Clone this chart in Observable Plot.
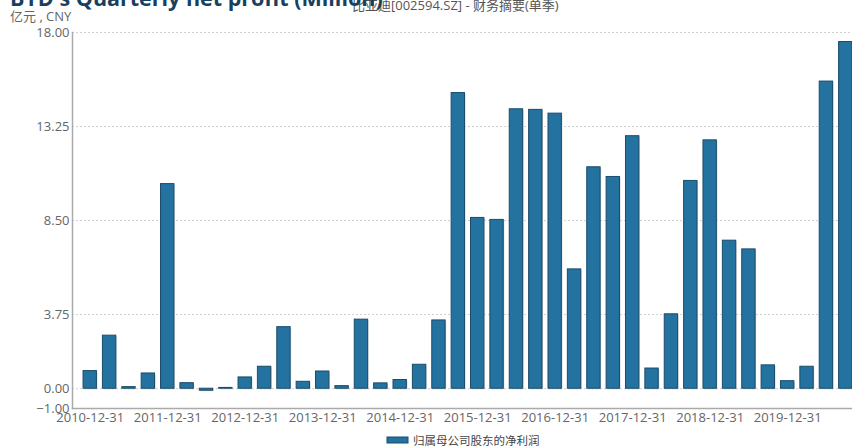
<!DOCTYPE html>
<html>
<head>
<meta charset="utf-8">
<script src="https://cdn.jsdelivr.net/npm/d3@7"></script>
<script src="https://cdn.jsdelivr.net/npm/@observablehq/plot@0.6"></script>
<style>
  html, body { margin: 0; padding: 0; background: #fff; }
  #chart { width: 852px; height: 446px; overflow: hidden; }
</style>
</head>
<body>
<div id="chart"></div>
<script>
// Quarter-end report dates
const quarters = [
  "2010-12-31",
  "2011-03-31", "2011-06-30", "2011-09-30", "2011-12-31",
  "2012-03-31", "2012-06-30", "2012-09-30", "2012-12-31",
  "2013-03-31", "2013-06-30", "2013-09-30", "2013-12-31",
  "2014-03-31", "2014-06-30", "2014-09-30", "2014-12-31",
  "2015-03-31", "2015-06-30", "2015-09-30", "2015-12-31",
  "2016-03-31", "2016-06-30", "2016-09-30", "2016-12-31",
  "2017-03-31", "2017-06-30", "2017-09-30", "2017-12-31",
  "2018-03-31", "2018-06-30", "2018-09-30", "2018-12-31",
  "2019-03-31", "2019-06-30", "2019-09-30", "2019-12-31",
  "2020-03-31", "2020-06-30", "2020-09-30"
];

// Net profit attributable to shareholders of the parent, per quarter (亿元)
const netProfit = [
  0.89,
  2.68, 0.08, 0.77, 10.34,
  0.28, -0.10, 0.04, 0.57,
  1.11, 3.11, 0.35, 0.87,
  0.13, 3.49, 0.27, 0.44,
  1.21, 3.45, 14.94, 8.63,
  8.53, 14.12, 14.09, 13.90,
  6.03, 11.19, 10.70, 12.76,
  1.02, 3.76, 10.50, 12.55,
  7.48, 7.04, 1.18, 0.38,
  1.11, 15.52, 17.52
];

const xTickLabels = ["2010-12-31", "2011-12-31", "2012-12-31", "2013-12-31", "2014-12-31",
                     "2015-12-31", "2016-12-31", "2017-12-31", "2018-12-31", "2019-12-31"];
const yTicks = [18, 13.25, 8.5, 3.75, 0, -1];
const gridLines = [18, 13.25, 8.5, 3.75, 0];

const titleText = "BYD's Quarterly net profit (Million)";
const subtitleText = "比亚迪[002594.SZ] - 财务摘要(单季)";
const unitText = "亿元 , CNY";
const seriesName = "归属母公司股东的净利润";

const data = quarters.map((q, i) => ({date: q, value: netProfit[i]}));

const barFill = "#23729f";
const barStroke = "#1a4c6b";
const fontStack = "'Open Sans', 'Noto Sans CJK SC', sans-serif";

const svg = Plot.plot({
  width: 852,
  height: 446,
  marginTop: 32,
  marginBottom: 38,
  marginLeft: 72,
  marginRight: 0,
  style: {fontFamily: fontStack, fontSize: "13px", background: "#fff"},
  x: {
    domain: quarters,
    range: [72, 863],
    round: false,
    paddingInner: 0.31,
    paddingOuter: 0.57,
    label: null
  },
  y: {domain: [-1, 18], label: null},
  marks: [
    Plot.ruleY(gridLines, {stroke: "#cfcfcf", strokeDasharray: "2,2", strokeWidth: 1}),
    // soft drop shadow behind each bar
    Plot.barY(data, {x: "date", y: "value", dx: 1, dy: 1, fill: "#b9b9b9", fillOpacity: 0.7}),
    Plot.barY(data, {x: "date", y: "value", fill: barFill, stroke: barStroke, strokeWidth: 1}),
    Plot.frame({anchor: "left", stroke: "#aaaaaa", strokeWidth: 1.5}),
    Plot.frame({anchor: "bottom", stroke: "#aaaaaa", strokeWidth: 1.5}),
    Plot.axisY({
      ticks: yTicks,
      tickFormat: d3.format(".2f"),
      tickSize: 0,
      tickPadding: 3,
      fontSize: 13,
      color: "#666",
      label: null
    }),
    Plot.axisX({
      ticks: xTickLabels,
      tickSize: 0,
      tickPadding: 4,
      fontSize: 13,
      color: "#666",
      label: null
    })
  ]
});

const root = d3.select(svg);

// Source subtitle (drawn first so the title sits over it)
root.append("text")
  .attr("x", 352).attr("y", 10)
  .attr("text-anchor", "start")
  .attr("font-family", fontStack)
  .attr("font-size", 13)
  .attr("fill", "#555")
  .text(subtitleText);

// Title (runs off the top edge)
root.append("text")
  .attr("x", 10).attr("y", 6)
  .attr("text-anchor", "start")
  .attr("font-family", fontStack)
  .attr("font-size", 21.5).attr("font-weight", "bold")
  .attr("fill", "#17405f")
  .text(titleText);

// Unit label
root.append("text")
  .attr("x", 10).attr("y", 21)
  .attr("text-anchor", "start")
  .attr("font-family", fontStack)
  .attr("font-size", 13)
  .attr("fill", "#666")
  .text(unitText);

// Legend
const legend = root.append("g");
legend.append("rect")
  .attr("x", 387).attr("y", 437).attr("width", 21).attr("height", 6)
  .attr("fill", barFill).attr("stroke", barStroke).attr("stroke-width", 1);
legend.append("text")
  .attr("x", 413).attr("y", 445)
  .attr("text-anchor", "start")
  .attr("font-family", fontStack)
  .attr("font-size", 11.5)
  .attr("fill", "#444")
  .text(seriesName);

document.getElementById("chart").appendChild(svg);
</script>
</body>
</html>
